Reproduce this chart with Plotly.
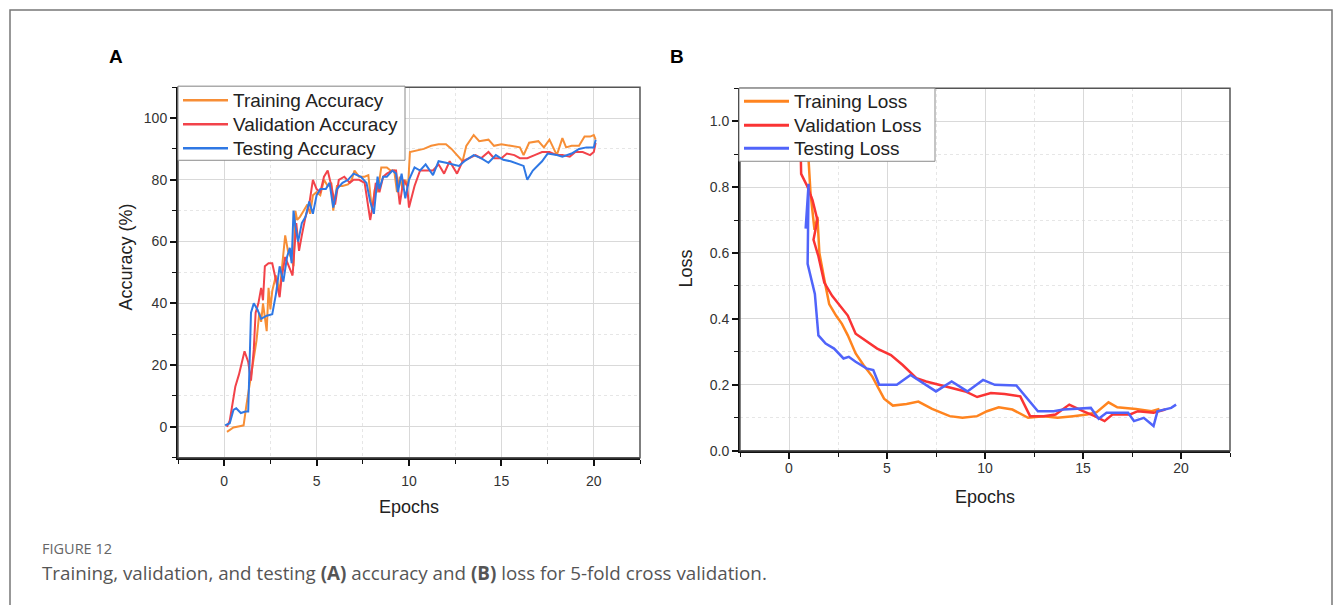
import plotly.graph_objects as go

# ---------------- data ----------------
acc_names = ["Training Accuracy", "Validation Accuracy", "Testing Accuracy"]
loss_names = ["Training Loss", "Validation Loss", "Testing Loss"]

# Panel A: accuracy (%)
acc_train_epoch = [0.15, 0.5, 0.9, 1.05, 1.2, 1.4, 1.6, 1.75, 1.9, 2.0,
                   2.1, 2.2, 2.3, 2.4, 2.5, 2.6, 2.8, 3.0, 3.15, 3.3,
                   3.45, 3.6, 3.75, 3.85, 3.95, 4.1, 4.3, 4.5, 4.65, 4.8,
                   5.0, 5.2, 5.4, 5.6, 5.8, 5.9, 6.1, 6.4, 6.7, 6.9,
                   7.05, 7.3, 7.6, 7.8, 8.0, 8.15, 8.3, 8.5, 8.8, 9.0,
                   9.2, 9.35, 9.5, 9.65, 9.8, 9.95, 10.05, 10.4, 10.8, 11.2,
                   11.6, 12.0, 12.3, 12.6, 12.9, 13.1, 13.5, 13.8, 14.3, 14.6,
                   15.0, 15.5, 16.0, 16.2, 16.5, 17.0, 17.3, 17.6, 18.0, 18.3,
                   18.5, 18.8, 19.2, 19.5, 19.8, 20.0, 20.1]
acc_train = [-1.6, -0.2, 0.3, 0.5, 7, 15, 22, 28, 37, 34,
             40, 35, 31, 45, 38, 44, 49, 44, 52, 62,
             57, 55, 52, 70, 67, 68, 70, 72, 69, 75,
             76, 75, 80, 78, 79, 70, 78, 78, 78.5, 80,
             83, 81, 81, 81.5, 70, 77, 76, 84, 84, 83,
             83, 76, 81, 77, 80, 78, 89, 89.5, 90, 91,
             91.5, 91.5, 90, 88, 86, 91, 94.5, 92.5, 93, 91,
             91.5, 91, 90.5, 88, 92, 92.5, 90.5, 93, 88, 93.5,
             90.5, 91, 91, 94, 94, 94.5, 93]

acc_val_epoch = [0.15, 0.3, 0.6, 0.8, 1.1, 1.3, 1.45, 1.6, 1.7, 1.85,
                 2.0, 2.1, 2.2, 2.4, 2.6, 2.8, 3.0, 3.1, 3.3, 3.5,
                 3.7, 3.9, 4.05, 4.2, 4.4, 4.6, 4.8, 5.0, 5.2, 5.4,
                 5.6, 5.8, 6.0, 6.2, 6.5, 6.8, 7.0, 7.3, 7.6, 7.9,
                 8.05, 8.2, 8.4, 8.6, 8.8, 9.1, 9.3, 9.5, 9.7, 9.9,
                 10.0, 10.3, 10.6, 10.9, 11.3, 11.6, 11.9, 12.2, 12.6, 12.9,
                 13.3, 13.6, 13.9, 14.3, 14.6, 15.0, 15.3, 15.7, 16.0, 16.4,
                 16.8, 17.2, 17.6, 18.0, 18.3, 18.7, 19.0, 19.4, 19.8, 20.0,
                 20.1]
acc_val = [0, 2, 13, 17, 24.5, 21, 15, 25, 37, 40,
           45, 41, 52, 53, 53, 48, 42, 48, 55, 52,
           49, 66, 57, 62, 68, 72, 80, 77, 76, 81,
           83, 78, 72, 80, 81, 79, 80, 80, 79, 67,
           72, 79, 76, 81, 82, 83, 83, 72, 80, 78,
           71, 78, 83, 83, 83, 85, 82, 86, 82, 86,
           87, 88, 87, 89, 87, 87, 88.5, 88, 87, 87,
           88, 89, 89, 88, 88, 87.5, 89, 89, 88, 89,
           92]

acc_test_epoch = [0.05, 0.3, 0.5, 0.65, 0.9, 1.15, 1.3, 1.45, 1.6, 1.8,
                  2.0, 2.3, 2.6, 2.8, 3.0, 3.2, 3.4, 3.55, 3.65, 3.75,
                  3.85, 4.0, 4.2, 4.4, 4.6, 4.8, 5.0, 5.2, 5.5, 5.7,
                  5.9, 6.1, 6.4, 6.7, 7.0, 7.4, 7.7, 7.9, 8.1, 8.3,
                  8.4, 8.6, 8.8, 9.1, 9.3, 9.4, 9.6, 9.8, 10.0, 10.3,
                  10.6, 10.9, 11.3, 11.6, 12.0, 12.3, 12.7, 13.0, 13.5, 13.9,
                  14.3, 14.7, 15.1, 15.5, 16.0, 16.2, 16.4, 16.7, 17.2, 17.5,
                  18.0, 18.3, 18.8, 19.2, 19.6, 20.0, 20.1]
acc_test = [0.5, 1.2, 5.5, 6, 4.5, 5, 5, 37, 40, 38,
            35, 36, 36.5, 43, 52, 47, 55, 58, 53, 70,
            65, 60, 66, 68, 73, 69, 75, 77, 77, 79,
            71, 77, 79, 80, 82, 81, 79, 73, 69, 81,
            77, 81, 81, 83, 82, 76, 82, 74, 80, 84,
            83, 85, 81.5, 86, 85.5, 85, 84.5, 86, 88, 87,
            85.5, 88, 86.5, 86, 85, 84.5, 80, 83, 86, 88.5,
            88, 87.5, 88.5, 90, 90.5, 90.5, 93]

# Panel B: loss
loss_train_epoch = [0.95, 1.0, 1.1, 1.3, 1.45, 1.55, 1.8, 2.05, 2.4, 2.7,
                    3.0, 3.4, 3.8, 4.25, 4.85, 5.3, 6.0, 6.6, 7.3, 8.2,
                    8.85, 9.6, 10.1, 10.7, 11.4, 12.2, 13.0, 13.7, 14.5, 15.2,
                    15.7, 16.3, 16.75, 17.7, 18.5, 18.9]
loss_train = [1.2, 0.88, 0.78, 0.67, 0.71, 0.6, 0.52, 0.445, 0.41, 0.385,
              0.35, 0.295, 0.26, 0.225, 0.158, 0.137, 0.142, 0.149, 0.127, 0.105,
              0.1, 0.105, 0.12, 0.132, 0.125, 0.1, 0.105, 0.1, 0.105, 0.11,
              0.117, 0.147, 0.132, 0.127, 0.12, 0.127]

loss_val_epoch = [0.5, 0.62, 0.95, 1.2, 1.45, 1.25, 1.5, 1.8, 2.2, 2.6,
                  3.0, 3.4, 4.0, 4.5, 5.2, 5.8, 6.5, 7.0, 8.0, 9.0,
                  9.6, 10.3, 11.0, 11.8, 12.3, 13.0, 13.6, 14.3, 15.0, 15.6,
                  16.1, 16.5, 17.4, 17.8, 18.6, 19.2]
loss_val = [1.2, 0.84, 0.80, 0.76, 0.70, 0.64, 0.59, 0.51, 0.47, 0.44,
            0.41, 0.355, 0.33, 0.31, 0.29, 0.26, 0.22, 0.21, 0.195, 0.18,
            0.163, 0.175, 0.172, 0.165, 0.105, 0.105, 0.11, 0.14, 0.12, 0.105,
            0.09, 0.11, 0.11, 0.12, 0.115, 0.125]

loss_test_epoch = [0.85, 1.0, 0.95, 1.15, 1.32, 1.5, 1.87, 2.3, 2.78, 3.05,
                   3.4, 3.95, 4.3, 4.6, 5.5, 6.2, 6.7, 7.5, 8.3, 9.1,
                   9.9, 10.5, 11.6, 12.7, 13.5, 14.0, 15.4, 15.8, 16.2, 17.3,
                   17.6, 18.1, 18.6, 18.8, 19.5, 19.75]
loss_test = [0.674, 0.81, 0.567, 0.517, 0.476, 0.35, 0.325, 0.31, 0.28, 0.285,
             0.27, 0.25, 0.245, 0.2, 0.2, 0.23, 0.21, 0.18, 0.21, 0.18,
             0.215, 0.2, 0.198, 0.12, 0.12, 0.125, 0.13, 0.097, 0.115, 0.115,
             0.09, 0.1, 0.075, 0.12, 0.13, 0.14]

# ---------------- layout helpers ----------------
W, H = 1335, 605
H_EFF = 596  # vertical placement reference
def px(x):
    return x / W
def py(y):
    return 1 - y / H_EFF

FONT = "Arial, Liberation Sans, sans-serif"
acc_colors = ["#F78E36", "#F2434A", "#2F78E4"]
loss_colors = ["#FF841F", "#FA3434", "#5064FA"]

fig = go.Figure()

acc_series = [(acc_train_epoch, acc_train), (acc_val_epoch, acc_val), (acc_test_epoch, acc_test)]
for (ex, ey), nm, col in zip(acc_series, acc_names, acc_colors):
    fig.add_trace(go.Scatter(x=ex, y=ey, mode="lines", name=nm,
                             line=dict(color=col, width=2), xaxis="x", yaxis="y"))

loss_series = [(loss_train_epoch, loss_train), (loss_val_epoch, loss_val), (loss_test_epoch, loss_test)]
for (ex, ey), nm, col in zip(loss_series, loss_names, loss_colors):
    fig.add_trace(go.Scatter(x=ex, y=ey, mode="lines", name=nm,
                             line=dict(color=col, width=2.5), xaxis="x2", yaxis="y2"))

def axis_common(dtick, minor_dtick, rng, domain, anchor, fmt=None):
    d = dict(
        domain=domain, range=rng, anchor=anchor, dtick=dtick, tick0=0,
        ticks="outside", ticklen=6, tickwidth=1.5, tickcolor="#111",
        showline=True, linecolor="#111", linewidth=2,
        showgrid=True, gridcolor="#d9d9d9", gridwidth=1, zeroline=False,
        tickfont=dict(family=FONT, size=14, color="#333"),
        minor=dict(dtick=minor_dtick, tick0=0, ticks="outside", ticklen=4, tickwidth=1.2,
                   tickcolor="#111", showgrid=True, gridcolor="#e6e6e6", griddash="dot", gridwidth=1),
        fixedrange=True,
    )
    if fmt:
        d["tickformat"] = fmt
    return d

xa = axis_common(5, 2.5, [-2.5, 22.5], [px(178), px(640)], "y")
xa["ticklabelstandoff"] = 3
xb = axis_common(5, 2.5, [-2.5, 22.5], [px(740), px(1230)], "y2")
xb["ticklabelstandoff"] = -3
fig.update_layout(
    width=W, height=H, autosize=False,
    margin=dict(l=0, r=0, t=0, b=0),
    paper_bgcolor="white", plot_bgcolor="white",
    font=dict(family=FONT, color="#222"),
    xaxis=xa,
    yaxis=axis_common(20, 10, [-10, 110], [py(457), py(87)], "x"),
    xaxis2=xb,
    yaxis2=axis_common(0.2, 0.1, [0, 1.1], [py(450), py(88)], "x2", fmt=".1f"),
    showlegend=False,
)

# plot frames (top/right thinner grey)
for xr, yr in [("x domain", "y domain"), ("x2 domain", "y2 domain")]:
    fig.add_shape(type="rect", xref=xr, yref=yr, x0=0, x1=1, y0=0, y1=1,
                  line=dict(color="#555", width=1.5), layer="above")

# legend boxes (key drawn in panel corners)
def add_key(box, names, colors, row_y, line_x0, line_x1, text_x, lw):
    x0, y0, x1, y1 = box
    fig.add_shape(type="rect", xref="paper", yref="paper",
                  x0=px(x0), x1=px(x1), y0=py(y1), y1=py(y0),
                  fillcolor="white", line=dict(color="#8a8a8a", width=1), layer="above")
    for nm, col, ry in zip(names, colors, row_y):
        fig.add_shape(type="line", xref="paper", yref="paper",
                      x0=px(line_x0), x1=px(line_x1), y0=py(ry), y1=py(ry),
                      line=dict(color=col, width=lw), layer="above")
        fig.add_annotation(xref="paper", yref="paper", showarrow=False,
                           xanchor="left", yanchor="middle", x=px(text_x), y=py(ry),
                           text=nm, font=dict(family=FONT, size=19, color="#222"))

add_key((178, 86, 405, 160), acc_names, acc_colors, [100, 124, 148], 183, 228, 231, 2.5)
add_key((739, 88, 935, 161), loss_names, loss_colors, [101, 125, 148], 744, 789, 792, 3)

# outer border of the figure panel
fig.add_shape(type="rect", xref="paper", yref="paper", x0=px(10), x1=px(1332),
              y0=-0.05, y1=py(10), line=dict(color="#777", width=1.5), layer="below")

annotations = [
    dict(text="<b>A</b>", x=px(116), y=py(56), font=dict(family=FONT, size=19, color="#000")),
    dict(text="<b>B</b>", x=px(677), y=py(56), font=dict(family=FONT, size=19, color="#000")),
    dict(text="Epochs", x=px(409), y=py(506), font=dict(family=FONT, size=18, color="#222")),
    dict(text="Epochs", x=px(985), y=py(496), font=dict(family=FONT, size=18, color="#222")),
    dict(text="Accuracy (%)", x=px(126), y=py(257), textangle=-90, font=dict(family=FONT, size=18, color="#222")),
    dict(text="Loss", x=px(686), y=py(268), textangle=-90, font=dict(family=FONT, size=18, color="#222")),
]
for a in annotations:
    fig.add_annotation(xref="paper", yref="paper", showarrow=False,
                       xanchor="center", yanchor="middle", **a)

fig.add_annotation(xref="paper", yref="paper", showarrow=False, xanchor="left", yanchor="middle",
                   x=px(40), y=py(548), text="FIGURE 12",
                   font=dict(family="Open Sans, sans-serif", size=14.5, color="#666"))
fig.add_annotation(xref="paper", yref="paper", showarrow=False, xanchor="left", yanchor="middle",
                   x=px(40), y=py(572),
                   text="Training, validation, and testing <b>(A)</b> accuracy and <b>(B)</b> loss for 5-fold cross validation.",
                   font=dict(family="Open Sans, sans-serif", size=18.8, color="#555"))

fig.write_html("out.html")
